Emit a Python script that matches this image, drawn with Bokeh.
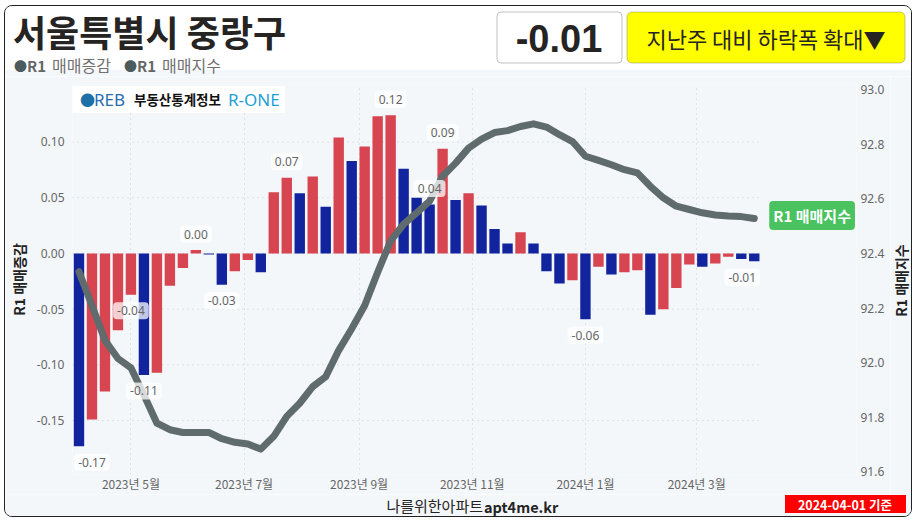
import math
import pandas as pd
from bokeh.plotting import figure
from bokeh.layouts import column, row
from bokeh.models import (Range1d, LinearAxis, FixedTicker, NumeralTickFormatter,
                          Label, BoxAnnotation, ColumnDataSource)
from bokeh.core.properties import value
from bokeh.embed import file_html
from bokeh.resources import INLINE

# ---------------- data ----------------
region = "서울특별시 중랑구"
start_date = "2023-04-03"
series_names = ["R1 매매증감", "R1 매매지수"]

change = [-0.173, -0.149, -0.124, -0.069, -0.037, -0.109, -0.107, -0.029, -0.013, 0.003,
          -0.001, -0.028, -0.016, -0.006, -0.017, 0.055, 0.068, 0.054, 0.069, 0.042,
          0.104, 0.083, 0.096, 0.123, 0.124, 0.076, 0.050, 0.044, 0.094, 0.048,
          0.054, 0.043, 0.022, 0.009, 0.019, 0.009, -0.016, -0.027, -0.024, -0.059,
          -0.012, -0.019, -0.017, -0.015, -0.055, -0.050, -0.031, -0.010, -0.012, -0.009,
          -0.003, -0.005, -0.007]

index_vals = [92.333, 92.209, 92.082, 92.015, 91.981, 91.881, 91.778, 91.754, 91.744, 91.744,
              91.744, 91.721, 91.708, 91.702, 91.683, 91.730, 91.803, 91.851, 91.912, 91.948,
              92.045, 92.124, 92.209, 92.331, 92.446, 92.507, 92.549, 92.592, 92.683, 92.731,
              92.786, 92.819, 92.843, 92.850, 92.865, 92.875, 92.863, 92.835, 92.810, 92.756,
              92.741, 92.725, 92.707, 92.695, 92.646, 92.604, 92.573, 92.561, 92.549, 92.541,
              92.537, 92.535, 92.528]

label_idx = [0, 4, 5, 9, 11, 16, 24, 27, 28, 39, 52]

month_ticks = ["2023-05-01", "2023-07-01", "2023-09-01", "2023-11-01", "2024-01-01", "2024-03-01"]
month_labels = ["2023년 5월", "2023년 7월", "2023년 9월", "2023년 11월", "2024년 1월", "2024년 3월"]
left_ticks = [-0.15, -0.10, -0.05, 0.0, 0.05, 0.10]
right_ticks = [91.6, 91.8, 92.0, 92.2, 92.4, 92.6, 92.8, 93.0]
status_text = "지난주 대비 하락폭 확대▼"
footer_kr = "나를위한아파트"
footer_url = "apt4me.kr"

# ---------------- derived ----------------
dates = pd.date_range(start_date, periods=len(change), freq="7D")
RED, BLUE, GRAY = "#D64550", "#12239E", "#5F6B6D"
colors = [BLUE if (i == 0 or change[i] < change[i - 1]) else RED for i in range(len(change))]
week_ms = 7 * 24 * 3600 * 1000
FONT = "Noto Sans CJK KR"
LIGHT = "#F4F7FA"

# page geometry (page pixels); content origin = margin + border
OX, OY = 5.5, 6.5
W = 906
R_W = 21                      # narrow strip holding the right axis title
M_W = W - R_W
H_TOP, H_BOT = 6.5, 76.5
M_TOP, M_BOT = 76.5, 494.5
F_TOP, F_BOT = 494.5, 516.5
MB_L, MB_R, MB_T, MB_B = 65, 34, 8, 18
FL = OX + MB_L
FR = OX + M_W - MB_R
FT = M_TOP + MB_T
FB = M_BOT - MB_B
BAR0_X, BARN_X, GRID_END_X = 77, 754, 762
ppd = (BARN_X - BAR0_X) / ((dates[-1] - dates[0]).days)   # pixels per day


def bare(fig, bg):
    fig.grid.visible = False
    fig.outline_line_color = None
    fig.background_fill_color = bg
    fig.border_fill_color = bg


def no_align(fig):
    if "frame_align" in fig.properties():
        fig.frame_align = False


def add_label(fig, text, x, y, size, color, bold=False, font=FONT, align="left", **kw):
    fig.add_layout(Label(x=x, y=y, text=text, text_font=font, text_font_size=f"{size}px",
                         text_color=color, text_font_style="bold" if bold else "normal",
                         text_align=align, text_baseline="middle", **kw))


def add_box(fig, l, r, t, b, fill, line=None, radius=0, lw=1, units="data", level="annotation"):
    fig.add_layout(BoxAnnotation(left=l, right=r, top=t, bottom=b,
                                 left_units=units, right_units=units,
                                 top_units=units, bottom_units=units,
                                 fill_color=fill, fill_alpha=1, line_color=line, line_width=lw,
                                 border_radius=radius, level=level))


def blank_fig(w, hgt, x0, bg):
    fg = figure(width=w, height=hgt, x_range=Range1d(x0, x0 + w), y_range=Range1d(0, hgt),
                output_backend="svg", toolbar_location=None, min_border=0,
                x_axis_location=None, y_axis_location=None)
    bare(fg, bg)
    no_align(fg)
    return fg


# ================= header =================
h = blank_fig(W, int(H_BOT - H_TOP), OX, "white")
hy = lambda py: H_BOT - py
add_box(h, OX, OX + W, hy(70), hy(H_BOT), LIGHT, level="underlay")
add_label(h, region, 13, hy(31), 36, "#252423", bold=True)
add_label(h, "●", 14, hy(65), 13, "#4D5A5E")
add_label(h, "R1", 27, hy(65), 15, "#666666", bold=True)
add_label(h, series_names[0][3:], 52, hy(65), 16, "#707070")
add_label(h, "●", 124, hy(65), 13, "#4D5A5E")
add_label(h, "R1", 137, hy(65), 15, "#666666", bold=True)
add_label(h, series_names[1][3:], 162, hy(65), 16, "#707070")
add_box(h, 497, 622, hy(12), hy(63), "white", "#333333", 4)
add_label(h, f"{change[-1]:.2f}", 559, hy(38), 38, "#252423", bold=True, font="Liberation Sans", align="center")
add_box(h, 627, 905, hy(12), hy(63), "#FFFF00", "#444444", 5)
add_label(h, status_text, 766, hy(38), 22, "#252423", align="center")

# ================= main chart =================
x_start = dates[0] - pd.Timedelta(days=(BAR0_X - FL) / ppd)
x_end = x_start + pd.Timedelta(days=(FR - FL) / ppd)
grid_end = dates[-1] + pd.Timedelta(days=(GRID_END_X - BARN_X) / ppd)

m = figure(width=M_W, height=int(M_BOT - M_TOP), x_axis_type="datetime",
           x_range=Range1d(x_start.to_pydatetime(), x_end.to_pydatetime()),
           y_range=Range1d(-0.1984, 0.1516),
           output_backend="svg", toolbar_location=None,
           min_border_left=MB_L, min_border_right=MB_R,
           min_border_top=MB_T, min_border_bottom=MB_B)
no_align(m)
m.extra_y_ranges = {"idx": Range1d(91.590, 93.019)}
m.background_fill_color = LIGHT
m.border_fill_color = LIGHT
m.outline_line_color = None

month_ms = [pd.Timestamp(t).value / 1e6 for t in month_ticks]
m.xaxis.ticker = FixedTicker(ticks=month_ms)
m.xgrid.ticker = FixedTicker(ticks=month_ms)
m.xaxis.major_label_overrides = {ms: lb for ms, lb in zip(month_ms, month_labels)}
m.xgrid.grid_line_color = "#C8CCD0"
m.xgrid.grid_line_dash = "1 4"
m.ygrid.visible = False
m.yaxis.ticker = FixedTicker(ticks=left_ticks)

# horizontal dotted grid limited to the data area
k = len(left_ticks)
m.segment(x0=[x_start] * k, x1=[grid_end] * k, y0=left_ticks, y1=left_ticks,
          line_color="#C8CCD0", line_dash="1 4", line_width=1)

# bars
src = ColumnDataSource(dict(x=dates, top=change, color=colors))
m.vbar(x="x", top="top", width=week_ms * 0.8, fill_color="color", line_color=None, source=src)

# index line
m.line(x=dates, y=index_vals, y_range_name="idx", line_width=7, line_color=GRAY,
       line_join="round", line_cap="round")

# data labels
n = len(change)
lsrc = ColumnDataSource(dict(
    x=[dates[i] for i in label_idx],
    y=[change[i] for i in label_idx],
    text=[f"{change[i]:.2f}" for i in label_idx],
    xo=[13 if i == 0 else (-12 if i == n - 1 else 0) for i in label_idx],
    yo=[-16 if change[i] >= 0 else 16 for i in label_idx]))
m.text(x="x", y="y", text="text", x_offset="xo", y_offset="yo", source=lsrc,
       text_align="center", text_baseline="middle", text_font=value("Noto Sans"),
       text_font_size="12px", text_color="#666666",
       background_fill_color="white", background_fill_alpha=0.75,
       border_radius=4, padding=4)

# axes
ax = m.xaxis[0]
ly_ax = m.yaxis[0]
ly_ax.formatter = NumeralTickFormatter(format="0.00")
ly_ax.axis_label = series_names[0]
ry_ax = LinearAxis(y_range_name="idx", ticker=FixedTicker(ticks=right_ticks),
                   formatter=NumeralTickFormatter(format="0.0"))
m.add_layout(ry_ax, "right")
for a in (ax, ly_ax, ry_ax):
    a.axis_line_color = None
    a.major_tick_line_color = None
    a.minor_tick_line_color = None
    a.major_tick_out = 0
    a.major_tick_in = 0
    a.minor_tick_out = 0
    a.minor_tick_in = 0
    a.major_label_text_font_size = "12px"
    a.major_label_text_color = "#666666"
ax.major_label_text_font = FONT
ax.major_label_standoff = 0
ly_ax.major_label_text_font = "Noto Sans"
ly_ax.major_label_standoff = 8
ly_ax.axis_label_standoff = 5
ly_ax.axis_label_text_font = FONT
ly_ax.axis_label_text_font_size = "14px"
ly_ax.axis_label_text_font_style = "bold"
ly_ax.axis_label_text_color = "#222222"
ry_ax.major_label_text_font = "Noto Sans"
ry_ax.major_label_standoff = 4

# logo (screen units relative to the frame)
msx = lambda px: px - FL
msy = lambda py: FB - py
add_box(m, msx(70), msx(283), msy(88), msy(115), "white", units="screen")
add_label(m, "●", msx(78), msy(101), 15, "#1D6FA8", x_units="screen", y_units="screen")
add_label(m, "REB", msx(92), msy(101), 17, "#2A6CB0", font="Noto Sans", x_units="screen", y_units="screen")
add_label(m, "부동산통계정보", msx(132), msy(101), 13.5, "#111111", bold=True, x_units="screen", y_units="screen")
add_label(m, "R-ONE", msx(226), msy(101), 17, "#1E9FD6", font="Noto Sans", x_units="screen", y_units="screen")

# badge at the line end
m.add_layout(Label(x=dates[-1].value / 1e6, y=index_vals[-1], y_range_name="idx",
                   text=series_names[1], text_font=FONT, text_font_size="15px",
                   text_font_style="bold", text_color="white",
                   text_align="left", text_baseline="middle",
                   background_fill_color="#49C25F", border_radius=4, padding=4,
                   x_offset=15, y_offset=3))

# ================= right axis title strip =================
r = blank_fig(R_W, int(M_BOT - M_TOP), OX + M_W, LIGHT)
ry = lambda py: M_BOT - py
add_label(r, series_names[1], 900.5, ry((FT + FB) / 2), 14, "#222222", bold=True,
          align="center", angle=math.pi / 2)

# ================= footer =================
f = blank_fig(W, int(F_BOT - F_TOP), OX, LIGHT)
fy = lambda py: F_BOT - py
add_label(f, footer_kr, 483, fy(505.5), 15, "#252423", align="right")
add_label(f, footer_url, 484, fy(506), 14.5, "#252423", bold=True)
add_box(f, 785, 906, fy(495), fy(513), "#FF0000")
add_label(f, f"{dates[-1]:%Y-%m-%d} 기준", 845, fy(504), 12.5, "white", bold=True, align="center")

layout = column(h, row(m, r, spacing=0), f, spacing=0, margin=(5, 0, 0, 4),
                styles={"border": "1.5px solid #222222", "border-radius": "8px", "overflow": "hidden"})

open("out.html", "w").write(file_html(layout, INLINE))
